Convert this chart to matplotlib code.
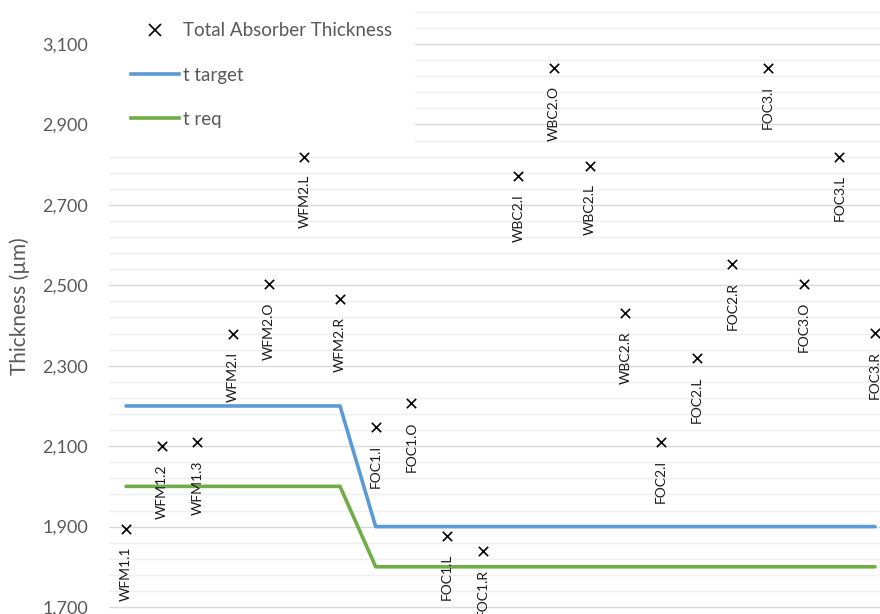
import matplotlib
matplotlib.use("Agg")
import matplotlib.pyplot as plt
from matplotlib.ticker import MultipleLocator
from matplotlib.lines import Line2D

plt.rcParams['font.family'] = ['Lato', 'DejaVu Sans']

# measured points, in order along the x axis
labels = ['WFM1.1', 'WFM1.2', 'WFM1.3', 'WFM2.I', 'WFM2.O', 'WFM2.L', 'WFM2.R',
          'FOC1.I', 'FOC1.O', 'FOC1.L', 'FOC1.R',
          'WBC2.I', 'WBC2.O', 'WBC2.L', 'WBC2.R',
          'FOC2.I', 'FOC2.L', 'FOC2.R',
          'FOC3.I', 'FOC3.O', 'FOC3.L', 'FOC3.R']
thickness = [1895, 2100, 2110, 2380, 2503, 2820, 2466,
             2148, 2207, 1877, 1840,
             2772, 3041, 2797, 2431,
             2110, 2319, 2553,
             3041, 2503, 2820, 2381]
positions = list(range(1, len(labels) + 1))

t_target = [2200] * 7 + [1900] * 15
t_req = [2000] * 7 + [1800] * 15

blue = '#5B9BD5'
green = '#70AD47'
gray = '#595959'

fig = plt.figure(figsize=(8.8, 6.14), dpi=100)
ax = fig.add_axes([109 / 880, 0, 1 - 109 / 880, 1])

ax.set_xlim(0.523, 22.14)
ax.set_ylim(1682.6, 3209.6)

ax.yaxis.set_major_locator(MultipleLocator(200, offset=100))
ax.yaxis.set_minor_locator(MultipleLocator(40, offset=20))
ax.grid(which='major', axis='y', color='#d9d9d9', lw=1.0)
ax.grid(which='minor', axis='y', color='#efefef', lw=1.0)
ax.set_axisbelow(True)
for s in ax.spines.values():
    s.set_visible(False)
ax.tick_params(axis='y', which='both', length=0, labelsize=13, labelcolor=gray, pad=15)
ax.tick_params(axis='x', which='both', length=0, labelbottom=False)
ax.yaxis.set_major_formatter(plt.FuncFormatter(lambda v, p: f'{int(v):,}'))

ax.plot(positions, t_target, color=blue, lw=2.6, solid_capstyle='round', zorder=2)
ax.plot(positions, t_req, color=green, lw=2.6, solid_capstyle='round', zorder=2)
ax.scatter(positions, thickness, marker='x', color='black', s=45, lw=1.2, zorder=3)

for x, y, lab in zip(positions, thickness, labels):
    ax.annotate(lab, (x, y), xytext=(0, -13), textcoords='offset points',
                rotation=90, ha='center', va='top', fontsize=10, color='#1a1a1a',
                zorder=4)

fig.text(20 / 880, 1 - 306 / 614, 'Thickness (µm)', rotation=90, ha='center', va='center',
         fontsize=15, color=gray)

handles = [Line2D([], [], ls='none', marker='x', color='black', markersize=8, mew=1.2),
           Line2D([], [], color=blue, lw=2.6),
           Line2D([], [], color=green, lw=2.6)]
leg = ax.legend(handles, ['Total Absorber Thickness', 't target', 't req'],
                loc='upper left', bbox_to_anchor=(108 / 880, 1.0), bbox_transform=fig.transFigure,
                frameon=True, fancybox=False, edgecolor='none', facecolor='white', framealpha=1,
                fontsize=13.5, labelcolor=gray, handlelength=2.6, handletextpad=0.2,
                labelspacing=1.45, borderpad=1.2, borderaxespad=0)
leg.set_zorder(5)

fig.savefig('out.png', dpi=100)
